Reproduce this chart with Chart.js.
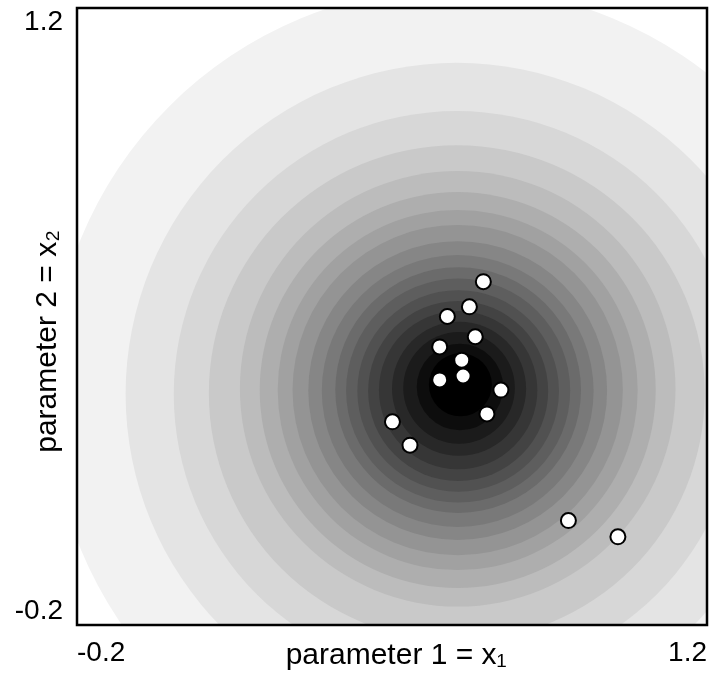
<!DOCTYPE html>
<html>
<head>
<meta charset="utf-8">
<script src="https://cdn.jsdelivr.net/npm/chart.js@4/dist/chart.umd.min.js"></script>
<style>
  html, body { margin: 0; padding: 0; background: #ffffff; }
  #wrap { width: 714px; height: 675px; }
</style>
</head>
<body>
<div id="wrap"><canvas id="c" width="714" height="675"></canvas></div>
<script>
// ---- Tick labels ----
const xTickValues = [-0.2, 1.2];
const xTickLabels = ['-0.2', '1.2'];
const yTickValues = [-0.2, 1.2];
const yTickLabels = ['-0.2', '1.2'];

// ---- Axis titles ----
const xTitle = '\u00a0parameter 1 = x\u2081';
const yTitle = 'parameter 2 = x\u2082\u00a0\u00a0\u00a0\u00a0\u00a0\u00a0';

// ---- Observed points (parameter 1, parameter 2) ----
const pointX = [0.703, 0.672, 0.623, 0.685, 0.606, 0.655, 0.658, 0.606, 0.742, 0.711, 0.501, 0.540, 0.892, 1.002];
const pointY = [0.579, 0.522, 0.500, 0.454, 0.431, 0.401, 0.365, 0.356, 0.333, 0.279, 0.261, 0.208, 0.037, 0.000];

// ---- Contour levels (outer to inner): centre, radius (data units), grey level ----
const ringX = [0.644, 0.644, 0.644, 0.644, 0.646, 0.646, 0.646, 0.646, 0.646, 0.646, 0.647, 0.647, 0.647, 0.647, 0.647, 0.649, 0.649, 0.651, 0.652];
const ringY = [0.324, 0.324, 0.324, 0.326, 0.336, 0.333, 0.333, 0.333, 0.332, 0.331, 0.333, 0.332, 0.331, 0.331, 0.333, 0.336, 0.338, 0.340, 0.345];
const ringR = [0.904, 0.736, 0.629, 0.551, 0.484, 0.440, 0.400, 0.367, 0.332, 0.302, 0.273, 0.249, 0.224, 0.200, 0.176, 0.149, 0.124, 0.096, 0.070];
const ringGray = [242, 228, 215, 201, 188, 174, 161, 148, 134, 121, 107, 94, 81, 67, 54, 40, 27, 13, 0];

Chart.defaults.font.family = '"Liberation Sans", Arial, Helvetica, sans-serif';
Chart.defaults.color = '#000000';

const ringData = ringX.map((x, i) => ({ x: x, y: ringY[i] }));
const pointData = pointX.map((x, i) => ({ x: x, y: pointY[i] }));
const ringColors = ringGray.map(g => 'rgb(' + g + ',' + g + ',' + g + ')');

const frame = {
  id: 'frame',
  beforeDraw(chart) {
    // end labels of the vertical axis sit inside the plot box
    const s = chart.scales.y;
    const items = s.getLabelItems();
    items.forEach((it, i) => {
      if (i === 0) it.options.textBaseline = 'bottom';
      else if (i === items.length - 1) it.options.textBaseline = 'top';
    });
  },
  afterDraw(chart) {
    const a = chart.chartArea;
    const ctx = chart.ctx;
    ctx.save();
    ctx.strokeStyle = '#000000';
    ctx.lineWidth = 2.5;
    ctx.strokeRect(a.left, a.top, a.right - a.left, a.bottom - a.top);
    ctx.restore();
  }
};

const chart = new Chart(document.getElementById('c'), {
  type: 'scatter',
  data: {
    datasets: [
      {
        label: 'observations',
        data: pointData,
        order: 0,
        pointRadius: 7.5,
        pointBorderWidth: 2,
        pointBackgroundColor: '#ffffff',
        pointBorderColor: '#000000'
      },
      {
        label: 'contours',
        data: ringData,
        order: 1,
        clip: 0,
        pointRadius: ringR.map(() => 0),
        pointBorderWidth: 0,
        pointBackgroundColor: ringColors,
        pointBorderColor: ringColors
      }
    ]
  },
  options: {
    responsive: false,
    animation: false,
    devicePixelRatio: 1,
    events: [],
    layout: { autoPadding: false, padding: { left: 0, top: 8, right: 7, bottom: 0 } },
    plugins: { legend: { display: false }, tooltip: { enabled: false } },
    scales: {
      x: {
        type: 'linear',
        position: 'bottom',
        min: -0.2,
        max: 1.2,
        grid: { display: false, drawTicks: false },
        border: { display: false },
        afterBuildTicks: (s) => { s.ticks = xTickValues.map(v => ({ value: v })); },
        afterFit: (s) => { s.height = 50; s.paddingLeft = 0; s.paddingRight = 0; },
        ticks: {
          font: { size: 28 },
          color: '#000000',
          padding: 11,
          align: 'inner',
          maxRotation: 0,
          autoSkip: false,
          callback: (v, i) => xTickLabels[i]
        },
        title: {
          display: true,
          text: xTitle,
          color: '#000000',
          font: { size: 30 },
          padding: { top: 0, bottom: 1 }
        }
      },
      y: {
        type: 'linear',
        position: 'left',
        min: -0.2,
        max: 1.2,
        grid: { display: false, drawTicks: false },
        border: { display: false },
        afterBuildTicks: (s) => { s.ticks = yTickValues.map(v => ({ value: v })); },
        afterFit: (s) => { s.width = 77; s.paddingTop = 0; s.paddingBottom = 0; },
        ticks: {
          font: { size: 28 },
          color: '#000000',
          padding: 14,
          autoSkip: false,
          callback: (v, i) => yTickLabels[i]
        },
        title: {
          display: true,
          text: yTitle,
          color: '#000000',
          font: { size: 30 },
          padding: { top: 30, bottom: 0 }
        }
      }
    }
  },
  plugins: [frame]
});

// contour radii in pixels come from the x scale of the laid-out chart
const xs = chart.scales.x;
chart.data.datasets[1].pointRadius = ringR.map((r, i) =>
  Math.abs(xs.getPixelForValue(ringX[i] + r) - xs.getPixelForValue(ringX[i])));
chart.update('none');
</script>
</body>
</html>
